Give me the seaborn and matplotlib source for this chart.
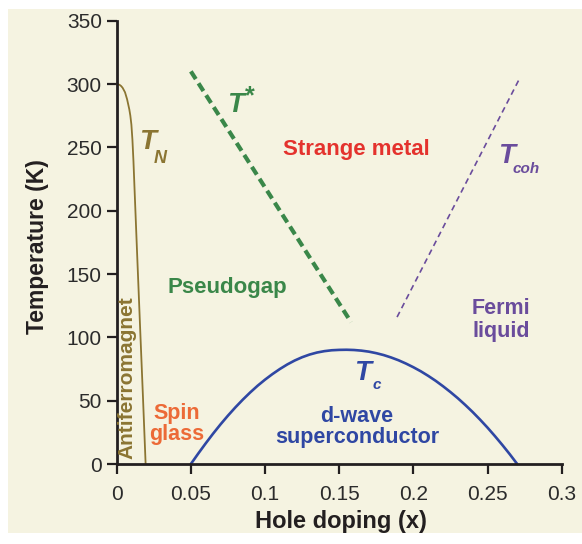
import matplotlib
matplotlib.use("Agg")
import matplotlib.pyplot as plt
import seaborn as sns
import pandas as pd
from matplotlib.patches import Rectangle

# ---- data ----
tn_x = [0.0, 0.001, 0.002, 0.003, 0.004, 0.0056, 0.007, 0.0085, 0.0092, 0.0099,
        0.0106, 0.0113, 0.0120, 0.0138, 0.0157, 0.0177, 0.0195]
tn_T = [300, 299.8, 299.3, 298.4, 297, 293.5, 288, 280, 275, 268,
        256, 239, 218, 165, 110, 53, 0]

tstar_x = [0.050, 0.158]
tstar_T = [310, 112]

tcoh_x = [0.189, 0.271]
tcoh_T = [116, 303]

tc_x = [0.050, 0.055, 0.060, 0.065, 0.070, 0.075, 0.080, 0.085, 0.090, 0.095,
        0.100, 0.105, 0.110, 0.115, 0.120, 0.125, 0.130, 0.135, 0.140, 0.145,
        0.150, 0.155, 0.160, 0.165, 0.170, 0.175, 0.180, 0.185, 0.190, 0.195,
        0.200, 0.205, 0.210, 0.215, 0.220, 0.225, 0.230, 0.235, 0.240, 0.245,
        0.250, 0.255, 0.260, 0.265, 0.270]
tc_T = [0, 8.3, 16.3, 24.0, 31.3, 38.2, 44.7, 50.8, 56.5, 61.8,
        66.6, 71.0, 75.0, 78.6, 81.7, 84.3, 86.4, 88.0, 89.1, 89.8,
        90.1, 90.2, 90.0, 89.5, 88.7, 87.5, 86.0, 84.1, 81.9, 79.3,
        76.4, 73.2, 69.6, 65.7, 61.4, 56.8, 51.9, 46.6, 41.0, 35.0,
        28.7, 22.0, 15.0, 7.7, 0]

x_ticks = [0, 0.05, 0.1, 0.15, 0.2, 0.25, 0.3]
x_tick_labels = ["0", "0.05", "0.1", "0.15", "0.2", "0.25", "0.3"]
y_ticks = [0, 50, 100, 150, 200, 250, 300, 350]
y_tick_labels = ["0", "50", "100", "150", "200", "250", "300", "350"]

# ---- colours ----
cream = "#f5f3e1"
olive = "#8b7532"
green = "#3a8749"
red = "#e4322d"
purple = "#6a4c9c"
blue = "#2f47a3"
orange = "#ec6a37"
ink = "#231f20"

sns.set_style("ticks")
plt.rcParams['font.family'] = ['Liberation Sans', 'DejaVu Sans']

fig = plt.figure(figsize=(5.82, 5.44), dpi=100, facecolor="white")
fig.patches.append(Rectangle((8 / 582, 1 - 533 / 544), 1 - 8 / 582, (533 - 9) / 544,
                             transform=fig.transFigure, facecolor=cream,
                             edgecolor="none", zorder=-10))
ax = fig.add_axes([116.7 / 582, 1 - 464 / 544, 445 / 582, 443.3 / 544])
ax.patch.set_alpha(0)

df_tn = pd.DataFrame({"x": tn_x, "T": tn_T})
df_ts = pd.DataFrame({"x": tstar_x, "T": tstar_T})
df_tcoh = pd.DataFrame({"x": tcoh_x, "T": tcoh_T})
df_tc = pd.DataFrame({"x": tc_x, "T": tc_T})

sns.lineplot(data=df_tn, x="x", y="T", ax=ax, color=olive, lw=1.3,
             sort=False, estimator=None, clip_on=False)
sns.lineplot(data=df_ts, x="x", y="T", ax=ax, color=green, lw=3,
             linestyle=(0, (2.2, 1.2)), sort=False, estimator=None)
sns.lineplot(data=df_tcoh, x="x", y="T", ax=ax, color=purple, lw=1.2,
             linestyle=(0, (3.5, 2.5)), sort=False, estimator=None)
sns.lineplot(data=df_tc, x="x", y="T", ax=ax, color=blue, lw=1.9,
             sort=False, estimator=None, clip_on=False)

ax.set_xlim(0, 0.3)
ax.set_ylim(0, 350)
ax.set_xticks(x_ticks)
ax.set_xticklabels(x_tick_labels)
ax.set_yticks(y_ticks)
ax.set_yticklabels(y_tick_labels)
sns.despine(ax=ax)
for s in ("left", "bottom"):
    ax.spines[s].set_linewidth(2.0)
    ax.spines[s].set_color(ink)
ax.tick_params(axis="both", direction="out", length=7.2, width=1.6,
               color=ink, labelsize=15, labelcolor="#2b2b2b")
ax.tick_params(axis="x", pad=8)
ax.tick_params(axis="y", pad=3.5)

ax.set_xlabel("Hole doping (x)", fontsize=17, fontweight="bold", color=ink)
ax.set_ylabel("Temperature (K)", fontsize=16.5, fontweight="bold", color=ink)
ax.xaxis.set_label_coords(0.503, -0.104)
ax.yaxis.set_label_coords(-0.152, 0.49)

bi = dict(fontweight="bold", fontstyle="italic")
# T*
ax.text(0.0798, 277.9, "T", color=green, fontsize=20, ha="center", va="baseline", **bi)
ax.text(0.0895, 285, "*", color=green, fontsize=18, ha="center", va="baseline", fontweight="bold")
# T_N
ax.text(0.0208, 248.7, "T", color=olive, fontsize=20, ha="center", va="baseline", **bi)
ax.text(0.0292, 237.6, "N", color=olive, fontsize=13, ha="center", va="baseline", **bi)
# T_coh
ax.text(0.2628, 237.6, "T", color=purple, fontsize=20, ha="center", va="baseline", **bi)
ax.text(0.2762, 229.7, "coh", color=purple, fontsize=11, ha="center", va="baseline", **bi)
# T_c
ax.text(0.1657, 66.3, "T", color=blue, fontsize=20, ha="center", va="baseline", **bi)
ax.text(0.1755, 59.0, "c", color=blue, fontsize=11, ha="center", va="baseline", **bi)

ax.text(0.1617, 244, "Strange metal", color=red, fontsize=16, fontweight="bold",
        ha="center", va="baseline")
ax.text(0.0747, 135, "Pseudogap", color=green, fontsize=16, fontweight="bold",
        ha="center", va="baseline")
ax.text(0.2591, 113.7, "Fermi\nliquid", color=purple, fontsize=15.5, fontweight="bold",
        ha="center", va="center", linespacing=1.15)
ax.text(0.0407, 31.6, "Spin\nglass", color=orange, fontsize=15.5, fontweight="bold",
        ha="center", va="center", linespacing=1.05)
ax.text(0.162, 29.2, "d-wave\nsuperconductor", color=blue, fontsize=15.5, fontweight="bold",
        ha="center", va="center", linespacing=1.05)
ax.text(0.0066, 67.9, "Antiferromagnet", color=olive, fontsize=15, fontweight="bold",
        ha="center", va="center", rotation=90)

fig.savefig("out.png", dpi=100, facecolor="white")
